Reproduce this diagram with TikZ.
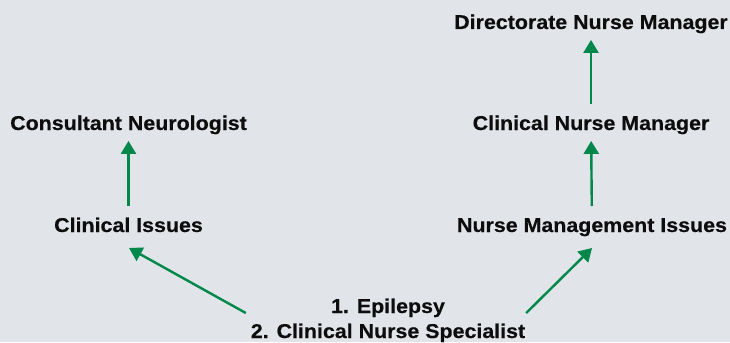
\documentclass[tikz,border=0pt]{standalone}
\usepackage{fontspec}
\newfontfamily\lblfont[FakeStretch=1.07,BoldFeatures={FakeBold=0.4}]{Liberation Sans}
\usetikzlibrary{arrows.meta}
\definecolor{bgcol}{HTML}{E1E5E9}
\definecolor{arrowgreen}{HTML}{00874A}
\definecolor{inkcol}{HTML}{0D0D0D}
\begin{document}
\begin{tikzpicture}[x=0.75pt,y=-0.75pt,
  lbl/.style={anchor=base,inner sep=0pt,outer sep=0pt,text height=10.7pt,text depth=3pt,
              font=\lblfont\bfseries\fontsize{15}{18}\selectfont,text=inkcol},
  conn/.style={draw=arrowgreen,line width=1.8pt,
               -{Triangle[width=11.25pt,length=9.75pt]}},
  upconn/.style={conn,shorten <=8.8pt,shorten >=5.2pt}]
  % canvas
  \fill[bgcol] (0,0) rectangle (730,342);
  \useasboundingbox (0,0) rectangle (730,342);
  % left column
  \node[lbl] (cn)  at (128.5,130) {Consultant Neurologist};
  \node[lbl] (ci)  at (128.5,232) {Clinical Issues};
  % right column
  \node[lbl] (dnm) at (591,29)   {Directorate Nurse Manager};
  \node[lbl] (cnm) at (591,130)  {Clinical Nurse Manager};
  \node[lbl] (nmi) at (592,232)  {Nurse Management Issues};
  % bottom items
  \node[lbl] (ep1) at (388,313)  {1. Epilepsy};
  \node[lbl] (ep2) at (388,338)  {2. Clinical Nurse Specialist};
  % reporting lines
  \draw[upconn] (ci) -- (cn);
  \draw[upconn] (nmi) -- (cnm);
  \draw[upconn] (cnm) -- (dnm);
  \draw[conn] ([shift={(-5,-10.7)}]ep2.north west) -- ([shift={(0.5,12)}]ci.south);
  \draw[conn] ([shift={(1,-10.7)}]ep2.north east) -- ([shift={(0,12)}]nmi.south);
\end{tikzpicture}
\end{document}
